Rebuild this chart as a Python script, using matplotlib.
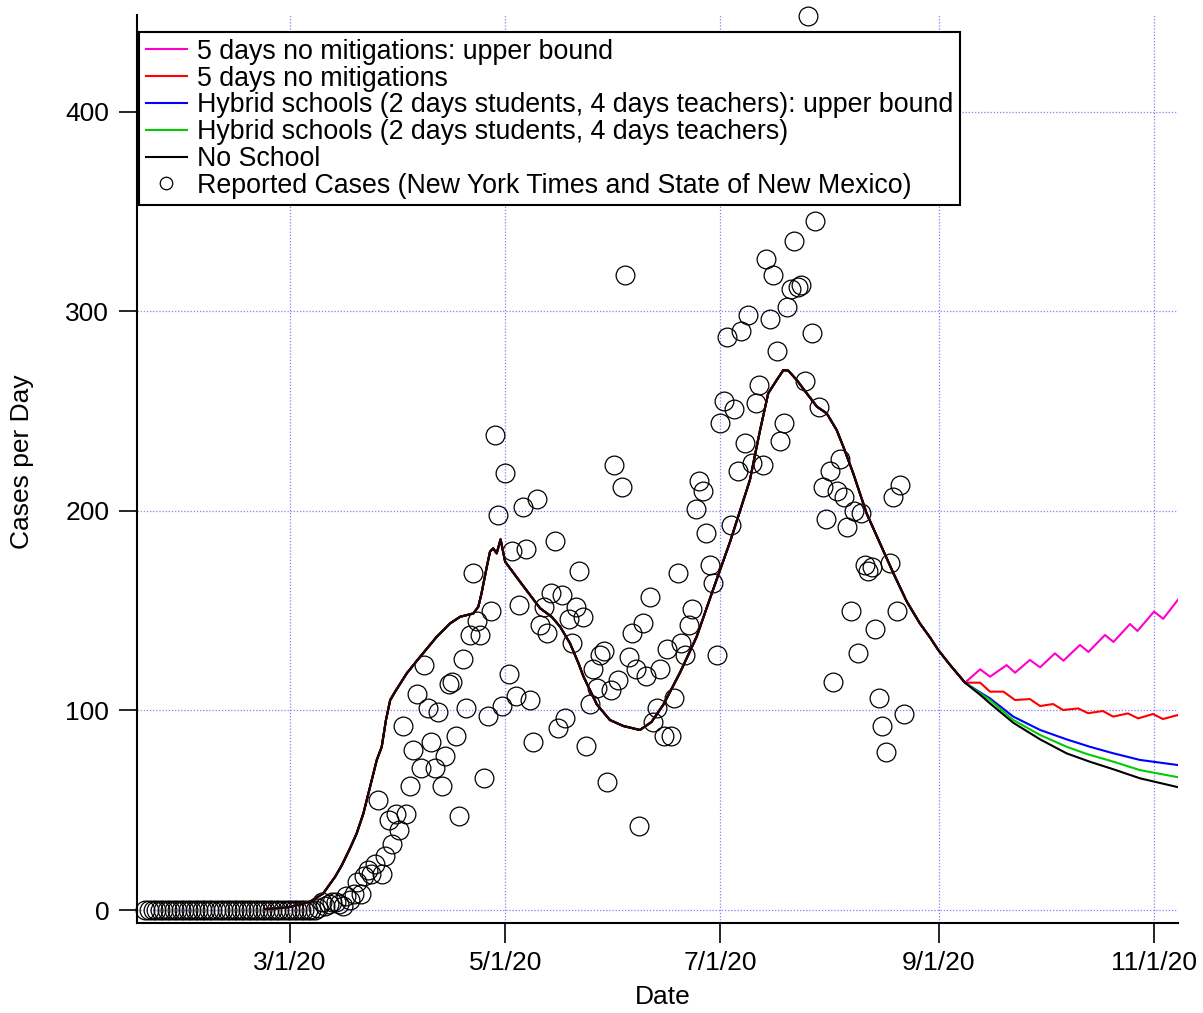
import numpy as np
import matplotlib.pyplot as plt
from matplotlib.lines import Line2D

plt.rcParams['font.family'] = ['Liberation Sans', 'DejaVu Sans']

EPOCH = np.datetime64('2020-01-01')

# reported cases, one value per day starting at report_start
report_start = np.datetime64('2020-01-20')
report_cases = [
    0, 0, 0, 0, 0, 0, 0, 0, 0, 0,
    0, 0, 0, 0, 0, 0, 0, 0, 0, 0,
    0, 0, 0, 0, 0, 0, 0, 0, 0, 0,
    0, 0, 0, 0, 0, 0, 0, 0, 0, 0,
    0, 0, 0, 0, 0, 0, 0, 0, 0, 1,
    4, 2, 3, 4, 4, 3, 2, 7, 5, 8,
    14, 8, 17, 20, 18, 23, 55, 18, 27, 45,
    33, 48, 40, 92, 48, 62, 80, 108, 71, 123,
    101, 84, 71, 99, 62, 77, 113, 114, 87, 47,
    126, 101, 138, 169, 145, 138, 66, 97, 150, 238,
    198, 102, 219, 118, 180, 107, 153, 202, 181, 105,
    84, 206, 143, 152, 139, 159, 185, 91, 158, 96,
    146, 134, 152, 170, 147, 82, 103, 121, 111, 128,
    130, 64, 110, 223, 115, 212, 318, 127, 139, 121,
    42, 144, 117, 157, 94, 101, 121, 87, 131, 87,
    106, 169, 134, 128, 143, 151, 201, 215, 210, 189,
    173, 164, 128, 244, 255, 287, 193, 251, 220, 290,
    234, 298, 224, 254, 263, 223, 326, 296, 318, 280,
    235, 244, 302, 311, 335, 312, 313, 265, 448, 289,
    345, 252, 212, 196, 220, 114, 210, 226, 207, 192,
    150, 200, 129, 199, 173, 170, 172, 141, 106, 92,
    79, 174, 207, 150, 213, 98,
]

# model fit shared by all scenarios (days since 2020-01-01)
model_day = [52.9, 57.2, 60.0, 65.7, 69.4, 72.8, 74.7, 77.0, 78.9, 80.8,
             82.7, 84.6, 86.0, 87.2, 88.4, 89.8, 93.1, 96.9, 101.6, 105.4,
             108.2, 112.0, 113.4, 114.3, 115.8, 116.7, 117.6, 118.6, 119.7, 121.0,
             125.2, 130.9, 134.2, 136.6, 139.4, 141.8, 143.2, 147.0, 150.7, 154.5,
             159.2, 162.5, 165.9, 170.6, 175.3, 180.0, 184.8, 190.4, 193.3, 195.6,
             198.0, 199.9, 201.3, 203.7, 206.5, 209.4, 212.2, 215.0, 216.9, 219.7,
             223.5, 227.3, 231.1, 234.9, 238.6, 241.5, 243.8, 247.2, 251.4]
model_cases = [0.5, 1.0, 1.5, 4.2, 8.3, 16.7, 22.5, 30.9, 38.4, 48.4,
               61.8, 75.2, 81.8, 95.2, 105.2, 109.4, 118.6, 126.9, 136.9, 143.6,
               146.9, 148.6, 152.0, 158.7, 172.0, 179.5, 181.2, 178.7, 185.7, 174.5,
               164.5, 151.2, 146.9, 141.9, 133.6, 123.6, 117.0, 103.0, 95.2, 92.2,
               90.2, 94.2, 103.0, 119.0, 136.9, 160.7, 184.6, 215.4, 240.5, 258.9,
               265.5, 270.5, 270.2, 265.5, 258.9, 252.2, 248.8, 240.5, 232.1, 218.8,
               198.7, 183.7, 168.7, 154.5, 143.6, 136.5, 130.3, 122.7, 113.9]

# scenario projections after school opening
upper5_day = [255.7, 258.5, 263.2, 265.6, 269.8, 272.7, 276.9, 279.3, 284.0,
              286.4, 291.1, 293.5, 298.2, 300.3, 305.0, 307.6, 311.9]
upper5_cases = [120.6, 116.9, 122.7, 118.9, 125.3, 121.6, 128.6, 124.9, 132.8,
                129.3, 137.8, 134.3, 143.3, 139.8, 149.5, 145.9, 155.7]
five_day = [255.7, 258.5, 262.3, 265.6, 269.8, 272.7, 276.4, 279.2, 283.5,
            286.3, 290.5, 293.4, 297.6, 300.5, 304.7, 307.5, 311.8]
five_cases = [113.9, 109.4, 109.4, 105.2, 105.7, 102.2, 103.2, 100.2, 101.0,
              98.6, 99.7, 96.9, 98.5, 96.0, 98.2, 95.7, 97.7]
hybrid_up_day = [255.7, 258.5, 265.1, 272.7, 280.2, 286.8, 293.5, 301.0, 311.9]
hybrid_up_cases = [109.0, 106.0, 96.9, 90.2, 85.5, 81.8, 78.5, 75.2, 72.6]
hybrid_day = [255.7, 258.5, 265.1, 272.7, 280.2, 285.9, 293.5, 301.0, 311.9]
hybrid_cases = [108.5, 105.2, 95.2, 87.7, 81.8, 78.2, 74.3, 70.1, 66.5]
noschool_day = [255.7, 258.5, 265.1, 272.7, 280.2, 286.8, 293.5, 301.0, 311.9]
noschool_cases = [107.8, 103.5, 93.8, 85.5, 78.5, 74.3, 70.5, 66.0, 61.5]

scenarios = [
    ('5 days no mitigations: upper bound', '#ff00cc', upper5_day, upper5_cases),
    ('5 days no mitigations', '#ff0000', five_day, five_cases),
    ('Hybrid schools (2 days students, 4 days teachers): upper bound', '#0000ff',
     hybrid_up_day, hybrid_up_cases),
    ('Hybrid schools (2 days students, 4 days teachers)', '#00cc00', hybrid_day, hybrid_cases),
    ('No School', '#000000', noschool_day, noschool_cases),
]
report_label = 'Reported Cases (New York Times and State of New Mexico)'

tick_dates = ['2020-03-01', '2020-05-01', '2020-07-01', '2020-09-01', '2020-11-01']
tick_labels = ['3/1/20', '5/1/20', '7/1/20', '9/1/20', '11/1/20']
x_range = (16.6, 311.8)
y_range = (-6.5, 448.4)

W, H = 1203, 1013
fig = plt.figure(figsize=(W / 100, H / 100), dpi=100)
ax = fig.add_axes([137 / W, 1 - 923 / H, 1041 / W, 908 / H])

report_day = (report_start - EPOCH).astype(int) + np.arange(len(report_cases))
ax.plot(report_day, report_cases, 'o', mfc='none', mec='black', ms=13.5, mew=0.9,
        clip_on=False, zorder=3)

handles = []
for label, color, tday, tcases in scenarios:
    xs = np.concatenate([model_day, tday])
    ys = np.concatenate([model_cases, tcases])
    line, = ax.plot(xs, ys, color=color, lw=1.5, zorder=4, label=label)
    handles.append(line)
# shared history drawn dark so the overlapped lines read as one
ax.plot(model_day, model_cases, color='#2a0000', lw=1.5, zorder=5)
handles.append(Line2D([], [], marker='o', ls='none', mfc='none', mec='black',
                      ms=9, mew=0.9))
labels = [s[0] for s in scenarios] + [report_label]

ax.set_xlim(*x_range)
ax.set_ylim(*y_range)
tick_pos = [(np.datetime64(d) - EPOCH).astype(int) for d in tick_dates]
ax.set_xticks(tick_pos)
ax.set_xticklabels(tick_labels)
ax.set_yticks([0, 100, 200, 300, 400])

for side in ['top', 'right']:
    ax.spines[side].set_visible(False)
for side in ['left', 'bottom']:
    ax.spines[side].set_linewidth(1.5)
ax.tick_params(axis='both', direction='out', width=1.2, labelsize=19, colors='black')
ax.tick_params(axis='y', length=13, pad=7)
ax.tick_params(axis='x', length=14.5, pad=6)

ax.grid(True, color='#7f7fff', linestyle=(0, (1, 1.5)), linewidth=0.9)
ax.set_axisbelow(True)

leg = ax.legend(handles, labels, loc='upper left',
                bbox_to_anchor=(139 / W, 1 - 32 / H), bbox_transform=fig.transFigure,
                borderaxespad=0, fontsize=19.3, frameon=True, fancybox=False,
                edgecolor='black', framealpha=1, handlelength=1.55,
                handletextpad=0.38, labelspacing=0.03, borderpad=0.25)
leg.get_frame().set_linewidth(1.5)
leg.set_zorder(10)

fig.text(663 / W, 1 - 997 / H, 'Date', fontsize=19, ha='center', va='center')
fig.text(22 / W, 1 - 462 / H, 'Cases per Day', fontsize=19, ha='center', va='center',
         rotation=90)

fig.savefig('out.png', dpi=100)
